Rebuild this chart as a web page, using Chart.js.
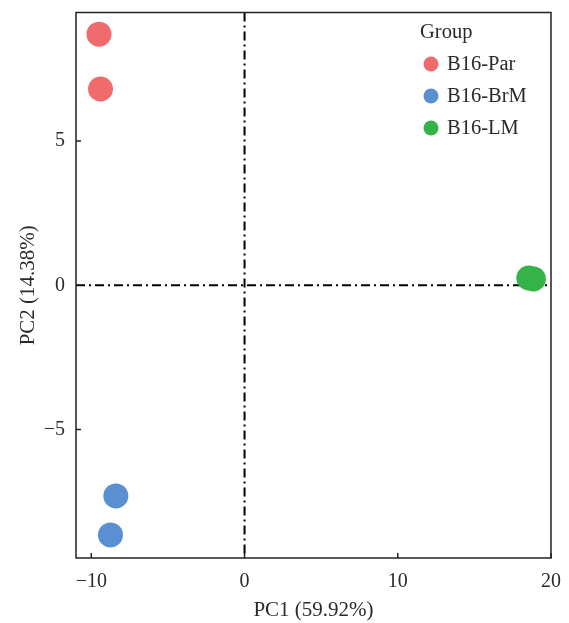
<!DOCTYPE html>
<html>
<head>
<meta charset="utf-8">
<script src="https://cdn.jsdelivr.net/npm/chart.js@4/dist/chart.umd.min.js"></script>
<style>
  html, body { margin: 0; padding: 0; background: #fff; }
  #wrap { width: 569px; height: 623px; }
</style>
</head>
<body>
<div id="wrap"><canvas id="pca"></canvas></div>
<script>
// PCA scores
const groups = ["B16-Par", "B16-BrM", "B16-LM"];
const groupColors = ["#F06B6B", "#5A8FD2", "#35B348"];
const parPC1 = [-9.5, -9.4];
const parPC2 = [8.7, 6.8];
const brmPC1 = [-8.4, -8.75];
const brmPC2 = [-7.3, -8.65];
const lmPC1 = [18.55, 18.85];
const lmPC2 = [0.25, 0.22];

const xTicks = [-10, 0, 10, 20];
const yTicks = [-5, 0, 5];

const toPoints = (xs, ys) => xs.map((x, i) => ({ x: x, y: ys[i] }));
const seriesX = [parPC1, brmPC1, lmPC1];
const seriesY = [parPC2, brmPC2, lmPC2];

const datasets = groups.map((g, i) => ({
    label: g,
    data: toPoints(seriesX[i], seriesY[i]),
    backgroundColor: groupColors[i],
    borderColor: groupColors[i],
    pointRadius: 12.5,
    pointHoverRadius: 12.5,
    borderWidth: 0
}));

const FONT = "'Liberation Serif', 'DejaVu Serif', serif";
const INK = "#2a2a2a";
const minus = v => String(v).replace("-", "\u2212");

// box, inward ticks, dash-dot zero lines and the legend
const decor = {
    id: 'decor',
    beforeDatasetsDraw(chart) {
        const { ctx, chartArea: a, scales } = chart;
        const x0 = scales.x.getPixelForValue(0);
        const y0 = scales.y.getPixelForValue(0);
        ctx.save();
        ctx.strokeStyle = "#000";
        ctx.lineWidth = 2;
        ctx.setLineDash([9, 4, 2, 4]);
        ctx.beginPath();
        ctx.moveTo(x0, a.top); ctx.lineTo(x0, a.bottom);
        ctx.moveTo(a.left, y0); ctx.lineTo(a.right, y0);
        ctx.stroke();
        ctx.restore();
    },
    afterDraw(chart) {
        const { ctx, chartArea: a, scales } = chart;
        ctx.save();
        ctx.strokeStyle = "#222";
        ctx.lineWidth = 1.5;
        ctx.strokeRect(a.left, a.top, a.right - a.left, a.bottom - a.top);
        ctx.beginPath();
        xTicks.forEach(t => {
            const px = scales.x.getPixelForValue(t);
            ctx.moveTo(px, a.bottom); ctx.lineTo(px, a.bottom - 5);
        });
        yTicks.forEach(t => {
            const py = scales.y.getPixelForValue(t);
            ctx.moveTo(a.left, py); ctx.lineTo(a.left + 5, py);
        });
        ctx.stroke();

        // legend
        ctx.fillStyle = INK;
        ctx.font = "20.5px " + FONT;
        ctx.textBaseline = "middle";
        ctx.textAlign = "left";
        ctx.fillText("Group", 420, 33);
        groups.forEach((g, i) => {
            const cy = 64 + i * 32;
            ctx.beginPath();
            ctx.fillStyle = groupColors[i];
            ctx.arc(431, cy, 7.5, 0, Math.PI * 2);
            ctx.fill();
            ctx.fillStyle = INK;
            ctx.fillText(g, 447, cy + 1);
        });
        ctx.restore();
    }
};

new Chart(document.getElementById("pca"), {
    type: "scatter",
    data: { datasets: datasets },
    options: {
        responsive: true,
        maintainAspectRatio: false,
        animation: false,
        layout: { padding: { top: 10, right: 18, left: 0, bottom: 0 } },
        plugins: {
            legend: { display: false },
            tooltip: { enabled: false }
        },
        scales: {
            x: {
                type: "linear",
                min: -11,
                max: 20,
                afterFit: s => { s.height = 65; s.paddingLeft = 0; s.paddingRight = 0; },
                afterBuildTicks: s => { s.ticks = xTicks.map(v => ({ value: v })); },
                grid: { display: false, drawTicks: false },
                border: { display: false },
                ticks: {
                    color: INK,
                    padding: 12,
                    font: { family: FONT, size: 20 },
                    callback: v => minus(v)
                },
                title: {
                    display: true,
                    text: "PC1 (59.92%)",
                    color: INK,
                    font: { family: FONT, size: 21 },
                    padding: { top: 4, bottom: 0 }
                }
            },
            y: {
                type: "linear",
                min: -9.45,
                max: 9.45,
                afterFit: s => { s.width = 76; s.paddingTop = 0; s.paddingBottom = 0; },
                afterBuildTicks: s => { s.ticks = yTicks.map(v => ({ value: v })); },
                grid: { display: false, drawTicks: false },
                border: { display: false },
                ticks: {
                    color: INK,
                    padding: 11,
                    font: { family: FONT, size: 20 },
                    callback: v => minus(v)
                },
                title: {
                    display: true,
                    text: "PC2 (14.38%)",
                    color: INK,
                    font: { family: FONT, size: 21 },
                    padding: { top: 16, bottom: 0 }
                }
            }
        }
    },
    plugins: [decor]
});
</script>
</body>
</html>
